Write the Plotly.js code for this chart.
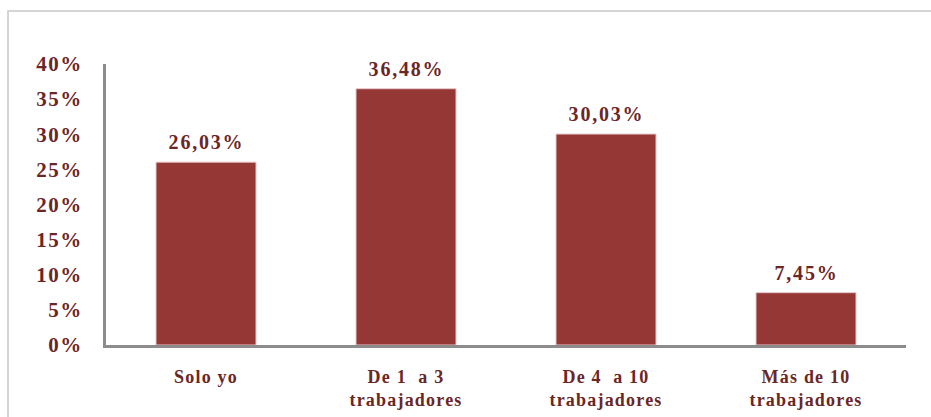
<!DOCTYPE html>
<html>
<head>
<meta charset="utf-8">
<script src="https://cdn.plot.ly/plotly-3.0.1.min.js"></script>
<style>
html,body{margin:0;padding:0;background:#fff;}
#chart{width:931px;height:417px;}
#chart .ytick text {letter-spacing:1.5px;}
#chart .xtick text {letter-spacing:1.2px;}
#chart .annotation-text {letter-spacing:1.8px;}
</style>
</head>
<body>
<div id="chart"></div>
<script>
const categories = ["Solo yo", "De 1  a 3<br>trabajadores", "De 4  a 10<br>trabajadores", "Más de 10<br>trabajadores"];
const values = [26.03, 36.48, 30.03, 7.45];
const valueLabels = ["26,03%", "36,48%", "30,03%", "7,45%"];
const yTickVals = [0, 5, 10, 15, 20, 25, 30, 35, 40];
const yTickText = ["0%", "5%", "10%", "15%", "20%", "25%", "30%", "35%", "40%"];

const textColor = "#6b2626";
const fontFam = "'Liberation Serif', 'Times New Roman', serif";

const trace = {
  type: "bar",
  x: categories,
  y: values,
  marker: {color: "#953735", line: {color: "#e8c8c8", width: 1}},
  width: 0.5,
  hoverinfo: "none"
};

const annotations = categories.map((c, i) => ({
  x: c, y: values[i], xref: "x", yref: "y",
  text: valueLabels[i], showarrow: false,
  yanchor: "middle", yshift: 20,
  font: {family: fontFam, size: 20, color: textColor, weight: "bold"}
}));

const layout = {
  width: 931, height: 417,
  margin: {l: 106, r: 25, t: 64, b: 72},
  paper_bgcolor: "#ffffff",
  plot_bgcolor: "#ffffff",
  showlegend: false,
  font: {family: fontFam, size: 19, color: textColor, weight: "bold"},
  xaxis: {
    type: "category",
    range: [-0.5, 3.5],
    showline: true, linecolor: "#8c8c8c", linewidth: 3,
    showgrid: false, zeroline: false,
    ticks: "", ticklabelstandoff: 13,
    tickfont: {family: fontFam, size: 18, color: textColor, weight: "bold"},
    fixedrange: true
  },
  yaxis: {
    range: [0, 40],
    tickvals: yTickVals, ticktext: yTickText,
    showline: true, linecolor: "#8c8c8c", linewidth: 3,
    showgrid: false, zeroline: false,
    ticks: "", ticklabelstandoff: 16,
    tickfont: {family: fontFam, size: 21, color: textColor, weight: "bold"},
    fixedrange: true
  },
  annotations: annotations,
  shapes: [{
    type: "rect", xref: "paper", yref: "paper",
    x0: -0.1225, x1: 1.04, y0: -0.3, y1: 1.1886,
    line: {color: "#c8c8c8", width: 1.5}, fillcolor: "rgba(0,0,0,0)", layer: "below"
  }]
};

Plotly.newPlot("chart", [trace], layout, {staticPlot: true, displayModeBar: false});
</script>
</body>
</html>
